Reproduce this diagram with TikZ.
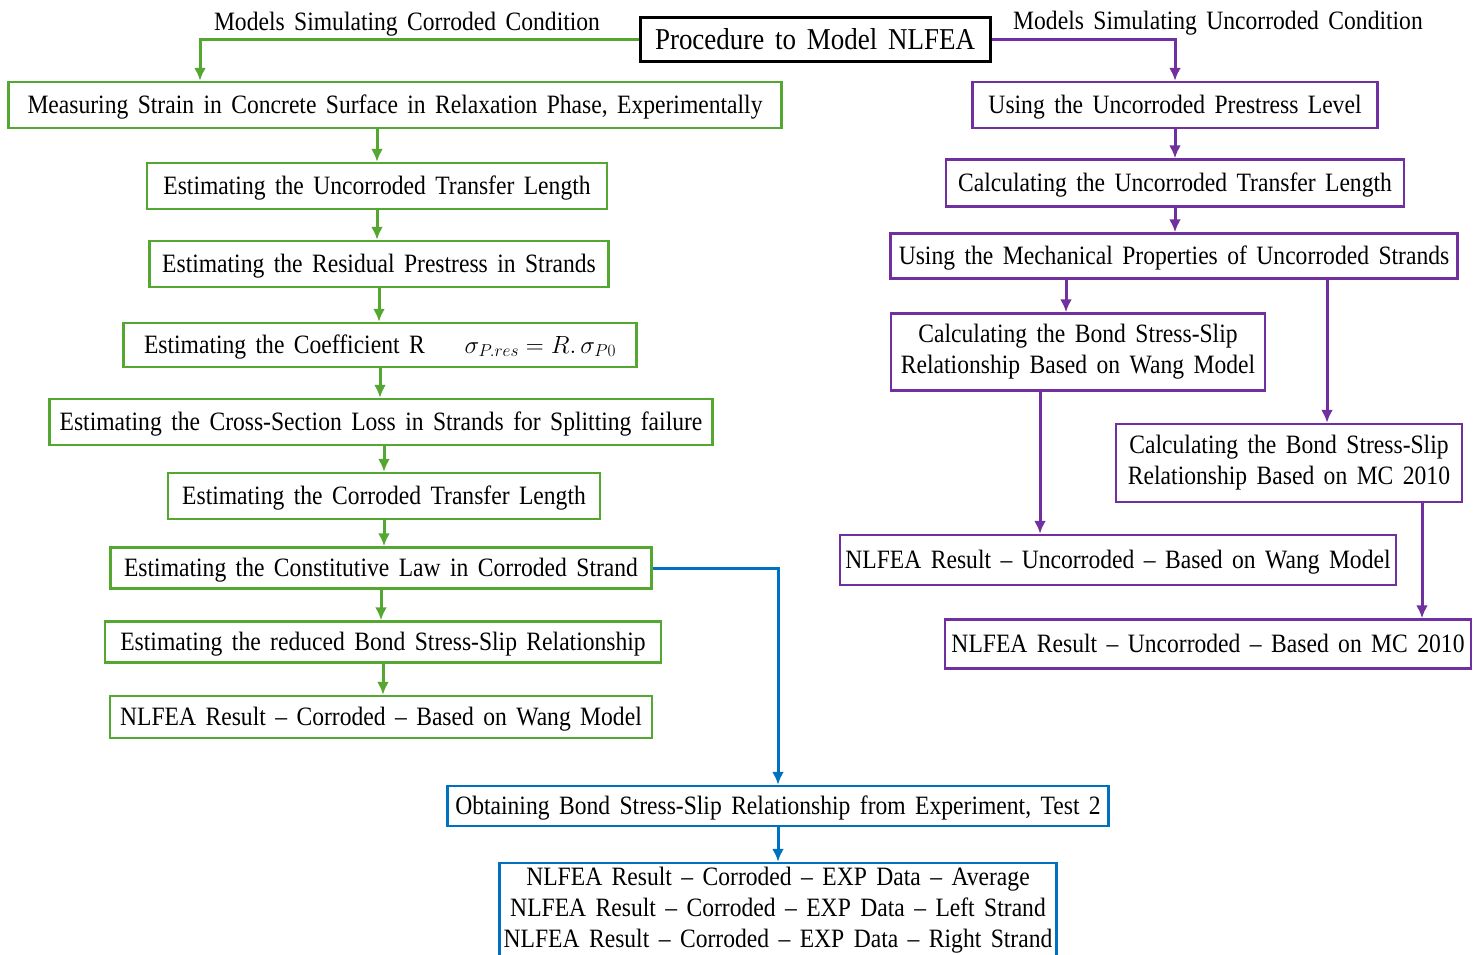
\documentclass[tikz,border=0pt]{standalone}
\usepackage{fontspec}
\setmainfont{Liberation Serif}[FakeStretch=0.89,WordSpace=1.6]
\usepackage{xcolor}
\usepackage{tikz}
\usetikzlibrary{arrows.meta,positioning,calc}

\definecolor{corgreen}{RGB}{84,168,50}
\definecolor{uncpurple}{RGB}{112,48,160}
\definecolor{expblue}{RGB}{0,112,192}

\begin{document}
\begin{tikzpicture}[x=1pt,y=-1pt,
        box/.style={draw,line width=2.5pt,inner sep=3pt,minimum height=46pt,align=center,
            text height=21pt,text depth=5pt,font=\fontsize{26.5}{31}\selectfont},
        twoline/.style={text height={},text depth={}},
        gbox/.style={box,draw=corgreen},
        pbox/.style={box,draw=uncpurple},
        bbox/.style={box,draw=expblue},
        garrow/.style={corgreen,line width=3pt,-{Latex[length=13pt,width=12pt]}},
        parrow/.style={uncpurple,line width=3pt,-{Latex[length=13pt,width=12pt]}},
        barrow/.style={expblue,line width=3pt,-{Latex[length=13pt,width=12pt]}},
        lbl/.style={font=\fontsize{26.5}{30}\selectfont}]
    \useasboundingbox (0,0) rectangle (1480,954);

    % Title and branch labels
    \node[draw,line width=3pt,minimum width=350pt,minimum height=44pt,inner sep=2pt,
        font=\fontsize{30.3}{34}\selectfont] (title) at (815,39) {Procedure to Model NLFEA};
    \node[lbl] (lcor) at (407,24) {Models Simulating Corroded Condition};
    \node[lbl] (lunc) at (1218,23) {Models Simulating Uncorroded Condition};

    % Corroded branch
    \node[gbox,minimum width=773pt] (g1) at (395,105) {Measuring Strain in Concrete Surface in Relaxation Phase, Experimentally};
    \node[gbox,minimum width=460pt] (g2) at (377,186) {Estimating the Uncorroded Transfer Length};
    \node[gbox,minimum width=459pt] (g3) at (379,264) {Estimating the Residual Prestress in Strands};
    \node[gbox,minimum width=513pt,minimum height=44pt] (g4) at (380,345)
        {Estimating the Coefficient R\hspace{40pt}$\sigma_{P.res} = R.\,\sigma_{P0}$};
    \node[gbox,minimum width=663pt] (g5) at (381,422) {Estimating the Cross-Section Loss in Strands for Splitting failure};
    \node[gbox,minimum width=432pt] (g6) at (384,496) {Estimating the Corroded Transfer Length};
    \node[gbox,minimum width=541pt,minimum height=41pt] (g7) at (381,568) {Estimating the Constitutive Law in Corroded Strand};
    \node[gbox,minimum width=556pt,minimum height=41pt] (g8) at (383,642) {Estimating the reduced Bond Stress-Slip Relationship};
    \node[gbox,minimum width=542pt,minimum height=42pt] (g9) at (381,717) {NLFEA Result -- Corroded -- Based on Wang Model};

    % Experimental bond-slip
    \node[bbox,minimum width=661pt,minimum height=40pt] (b1) at (778,806) {Obtaining Bond Stress-Slip Relationship from Experiment, Test 2};
    \node[bbox,twoline,minimum width=557pt,minimum height=94pt] (b2) at (778,910)
        {NLFEA Result -- Corroded -- EXP Data -- Average\\
         NLFEA Result -- Corroded -- EXP Data -- Left Strand\\
         NLFEA Result -- Corroded -- EXP Data -- Right Strand};

    % Uncorroded branch
    \node[pbox,minimum width=405pt] (p1) at (1175,105) {Using the Uncorroded Prestress Level};
    \node[pbox,minimum width=458pt,minimum height=47pt] (p2) at (1175,183) {Calculating the Uncorroded Transfer Length};
    \node[pbox,minimum width=567pt,minimum height=45pt] (p3) at (1174,256) {Using the Mechanical Properties of Uncorroded Strands};
    \node[pbox,twoline,minimum width=374pt,minimum height=77pt] (p4) at (1078,352)
        {Calculating the Bond Stress-Slip\\ Relationship Based on Wang Model};
    \node[pbox,twoline,minimum width=346pt,minimum height=78pt] (p5) at (1289,463)
        {Calculating the Bond Stress-Slip\\ Relationship Based on MC 2010};
    \node[pbox,minimum width=556pt,minimum height=50pt] (p6) at (1118,560) {NLFEA Result -- Uncorroded -- Based on Wang Model};
    \node[pbox,minimum width=526pt,minimum height=49pt] (p7) at (1208,644) {NLFEA Result -- Uncorroded -- Based on MC 2010};

    % Green arrows
    \draw[garrow] (title.west) -| ([xshift=-195pt]g1.north);
    \draw[garrow] (g1.south -| g2.north) -- (g2.north);
    \draw[garrow] (g2.south) -- (g2.south |- g3.north);
    \draw[garrow] (g3.south) -- (g3.south |- g4.north);
    \draw[garrow] (g4.south) -- (g4.south |- g5.north);
    \draw[garrow] (g5.south -| g6.north) -- (g6.north);
    \draw[garrow] (g6.south) -- (g6.south |- g7.north);
    \draw[garrow] (g7.south) -- (g7.south |- g8.north);
    \draw[garrow] (g8.south) -- (g8.south |- g9.north);

    % Purple arrows
    \draw[parrow] (title.east) -| (p1.north);
    \draw[parrow] (p1.south) -- (p2.north);
    \draw[parrow] (p2.south) -- (p2.south |- p3.north);
    \draw[parrow] ([xshift=-12pt]p4.north |- p3.south) -- ([xshift=-12pt]p4.north);
    \draw[parrow] ([xshift=38pt]p5.north |- p3.south) -- ([xshift=38pt]p5.north);
    \draw[parrow] ([xshift=-38pt]p4.south) -- ([xshift=-38pt]p4.south |- p6.north);
    \draw[parrow] ([xshift=133pt]p5.south) -- ([xshift=133pt]p5.south |- p7.north);

    % Blue arrows
    \draw[barrow] (g7.east) -| (b1.north);
    \draw[barrow] (b1.south) -- (b2.north);
\end{tikzpicture}
\end{document}
